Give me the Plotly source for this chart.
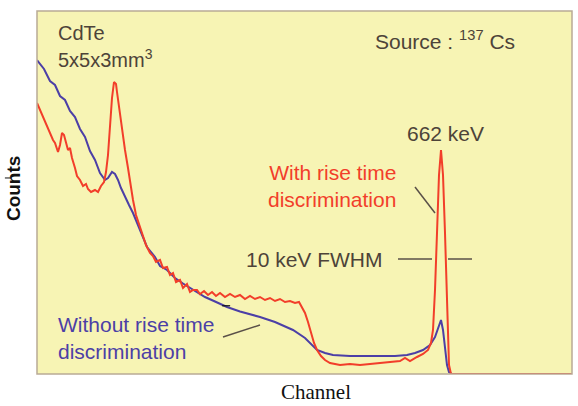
import plotly.graph_objects as go

# Spectrum "without rise time discrimination" (channel, counts)
blue_channel = [0, 14, 26, 36, 46, 56, 66, 76, 86, 96, 106, 116, 126, 136, 142, 150, 156, 162,
                168, 176, 184, 192, 206, 220, 236, 246, 260, 276, 292, 312, 336, 356, 380, 406,
                446, 476, 512, 536, 560, 576, 592, 626, 672, 716, 740, 756, 772, 786, 796, 802,
                808, 812, 816, 820, 824, 830, 1070]
blue_counts = [3140, 3050, 2930, 2890, 2780, 2740, 2630, 2570, 2450, 2370, 2230, 2140, 2010, 1940,
               1960, 2020, 2000, 1940, 1860, 1770, 1690, 1610, 1440, 1270, 1170, 1080, 1040, 960,
               905, 840, 770, 725, 670, 625, 570, 520, 440, 360, 240, 210, 190, 180, 180, 180,
               190, 210, 240, 290, 370, 460, 540, 440, 260, 90, 20, 0, 0]

# Spectrum "with rise time discrimination" (channel, counts)
red_channel = [0, 6, 12, 18, 26, 32, 36, 42, 46, 50, 54, 58, 62, 66, 70, 76, 80, 86, 92, 98, 102,
               108, 116, 122, 128, 134, 138, 142, 146, 150, 154, 158, 160, 164, 168, 172, 176,
               182, 186, 192, 198, 206, 212, 218, 226, 232, 238, 246, 252, 260, 266, 272, 278,
               286, 292, 300, 306, 312, 320, 326, 334, 342, 350, 358, 366, 376, 386, 396, 406,
               416, 426, 436, 446, 456, 466, 476, 486, 496, 506, 516, 524, 530, 536, 542, 548,
               554, 560, 568, 576, 586, 606, 626, 646, 666, 686, 706, 726, 736, 746, 760, 772,
               782, 788, 792, 796, 800, 804, 808, 812, 816, 820, 822, 824, 828, 1070]
red_counts = [2710, 2640, 2570, 2490, 2410, 2340, 2310, 2220, 2290, 2410, 2390, 2310, 2240, 2260,
              2160, 2060, 1980, 1940, 1880, 1900, 1850, 1820, 1840, 1820, 1880, 1920, 2020, 2190,
              2490, 2760, 2920, 2900, 2820, 2660, 2520, 2360, 2240, 2060, 1910, 1740, 1590, 1470,
              1360, 1290, 1210, 1180, 1120, 1140, 1060, 1070, 990, 1010, 920, 940, 860, 900, 820,
              840, 840, 800, 830, 790, 820, 780, 810, 770, 800, 770, 790, 750, 780, 750, 770, 740,
              760, 730, 750, 720, 730, 710, 720, 670, 610, 520, 410, 310, 240, 180, 140, 110, 90,
              100, 90, 100, 110, 120, 130, 160, 130, 170, 200, 240, 310, 440, 840, 1410, 1990,
              2240, 1990, 1410, 740, 340, 90, 0, 0]

BG = "#f7f4b4"
TXT = "#4d4339"
RED = "#f23e2a"
BLUE = "#4c3fa6"
SANS = "Arial, Liberation Sans, sans-serif"

fig = go.Figure()
fig.add_trace(go.Scatter(x=blue_channel, y=blue_counts, mode="lines",
                         line=dict(color=BLUE, width=2), hoverinfo="skip"))
fig.add_trace(go.Scatter(x=red_channel, y=red_counts, mode="lines",
                         line=dict(color=RED, width=2), hoverinfo="skip"))

def label(text, x, y, color=TXT, xanchor="left", align="left", size=21, **kw):
    fig.add_annotation(text=text, x=x, y=y, xref="x", yref="y", showarrow=False,
                       xanchor=xanchor, yanchor="middle", align=align,
                       font=dict(family=SANS, size=size, color=color), **kw)

label("CdTe", 38, 3410, size=20)
label("5x5x3mm<sup>3</sup>", 38, 3160, size=20)
label("Source : <sup>137</sup> Cs", 672, 3340)
label("662 keV", 816, 2410, xanchor="center", align="center")
label("With rise time<br>discrimination", 722, 1880, color=RED, xanchor="right", align="right")
label("10 keV FWHM", 414, 1150)
label("Without rise time<br>discrimination", 38, 365, color=BLUE)

# axis titles (placed in paper space, outside the plotting area)
fig.add_annotation(text="<b>Counts</b>", x=-0.045, y=0.512, xref="paper", yref="paper",
                   showarrow=False, textangle=-90, xanchor="center", yanchor="middle",
                   font=dict(family=SANS, size=19, color="#111111"))
fig.add_annotation(text="Channel", x=0.521, y=-0.012, xref="paper", yref="paper",
                   showarrow=False, xanchor="center", yanchor="top",
                   font=dict(family="Liberation Serif, Times New Roman, serif", size=21,
                             color="#111111"))

# pointer lines and FWHM marker
for x0, y0, x1, y1 in [(756, 1870, 796, 1610),
                       (722, 1150, 790, 1150),
                       (822, 1150, 870, 1150),
                       (372, 370, 446, 490)]:
    fig.add_shape(type="line", x0=x0, y0=y0, x1=x1, y1=y1, xref="x", yref="y",
                  line=dict(color="#5a5048", width=1.5))

# small tick dashes
fig.add_shape(type="line", x0=-0.060, x1=-0.049, y0=0.540, y1=0.540, xref="paper", yref="paper",
              line=dict(color="#111111", width=1))
fig.add_shape(type="line", x0=0.346, x1=0.361, y0=0.188, y1=0.188, xref="paper", yref="paper",
              line=dict(color="#111111", width=1.2))

# plot frame
fig.add_shape(type="rect", x0=0, y0=0, x1=1, y1=1, xref="paper", yref="paper",
              line=dict(color="#b9ab95", width=1.5))

fig.update_xaxes(range=[0, 1070], visible=False, showgrid=False, zeroline=False)
fig.update_yaxes(range=[0, 3630], visible=False, showgrid=False, zeroline=False)
fig.update_layout(width=578, height=406, margin=dict(l=37, r=6, t=11, b=32),
                  plot_bgcolor=BG, paper_bgcolor="white", showlegend=False)

fig.write_html("out.html")
